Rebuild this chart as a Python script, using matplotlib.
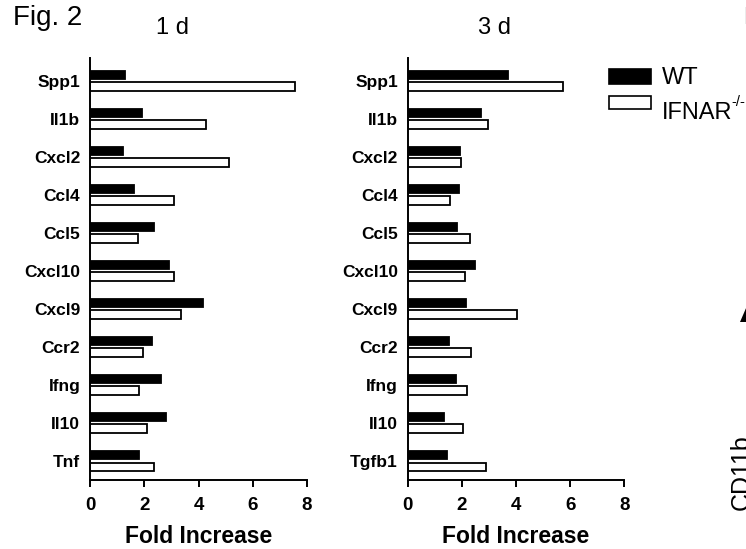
import numpy as np
import matplotlib
matplotlib.use("Agg")
import matplotlib.pyplot as plt
from matplotlib.patches import Rectangle, Polygon

plt.rcParams['font.family'] = ['Liberation Sans', 'DejaVu Sans']

W, H = 746, 549

genes_1d = ["Spp1", "Il1b", "Cxcl2", "Ccl4", "Ccl5", "Cxcl10", "Cxcl9", "Ccr2", "Ifng", "Il10", "Tnf"]
wt_1d = [1.29, 1.93, 1.20, 1.62, 2.37, 2.90, 4.17, 2.30, 2.60, 2.80, 1.82]
ko_1d = [7.56, 4.26, 5.12, 3.10, 1.78, 3.10, 3.37, 1.94, 1.80, 2.09, 2.36]

genes_3d = ["Spp1", "Il1b", "Cxcl2", "Ccl4", "Ccl5", "Cxcl10", "Cxcl9", "Ccr2", "Ifng", "Il10", "Tgfb1"]
wt_3d = [3.70, 2.70, 1.93, 1.91, 1.81, 2.47, 2.17, 1.51, 1.80, 1.34, 1.46]
ko_3d = [5.72, 2.97, 1.96, 1.58, 2.30, 2.10, 4.04, 2.34, 2.18, 2.03, 2.89]

xticks = [0, 2, 4, 6, 8]


def fx(px):
    return px / W


def fy(py):
    return 1 - py / H


def draw_panel(ax, genes, wt, ko):
    y = np.arange(len(genes))
    ax.barh(y - 0.15, wt, height=0.22, color='black', edgecolor='black', linewidth=1.3)
    ax.barh(y + 0.15, ko, height=0.22, color='white', edgecolor='black', linewidth=1.3)
    ax.set_xlim(0, 8)
    ax.set_ylim(10.5, -0.6)
    ax.set_xticks(xticks)
    ax.set_xticklabels([str(t) for t in xticks], fontsize=13.5, fontweight='bold')
    ax.set_yticks(y)
    ax.set_yticklabels(genes, fontsize=12.5, fontweight='bold')
    ax.tick_params(axis='y', length=0, pad=7)
    ax.tick_params(axis='x', length=5, width=1.4, pad=7, direction='out')
    for s in ['top', 'right']:
        ax.spines[s].set_visible(False)
    for s in ['left', 'bottom']:
        ax.spines[s].set_linewidth(1.4)
    ax.set_xlabel("Fold Increase", fontsize=16.5, fontweight='bold', labelpad=8)


fig = plt.figure(figsize=(W / 100, H / 100), dpi=100)

ax1 = fig.add_axes([fx(90), fy(480), fx(217), 422 / H])
ax2 = fig.add_axes([fx(407.7), fy(480), fx(216.6), 422 / H])
draw_panel(ax1, genes_1d, wt_1d, ko_1d)
draw_panel(ax2, genes_3d, wt_3d, ko_3d)

fig.text(fx(13), fy(25), "Fig. 2", fontsize=20, va='baseline', ha='left')
fig.text(fx(172.5), fy(34.3), "1 d", fontsize=17, va='baseline', ha='center')
fig.text(fx(494), fy(34.3), "3 d", fontsize=17, va='baseline', ha='center')
fig.text(fx(743), fy(24), "B", fontsize=17, va='baseline', ha='left', color='0.4')

# legend
fig.add_artist(Rectangle((fx(608.5), fy(84)), fx(42), 15 / H, transform=fig.transFigure,
                         facecolor='black', edgecolor='black', linewidth=1.2))
fig.add_artist(Rectangle((fx(608.5), fy(109)), fx(42), 13 / H, transform=fig.transFigure,
                         facecolor='white', edgecolor='black', linewidth=1.2))
fig.text(fx(662), fy(84.3), "WT", fontsize=17, va='baseline', ha='left')
fig.text(fx(662), fy(119.3), "IFNAR", fontsize=17, va='baseline', ha='left')
fig.text(fx(731.5), fy(106), "-/-", fontsize=10.5, va='baseline', ha='left')

# cut-off bits of the next panel
fig.add_artist(Polygon([(fx(740), fy(322)), (fx(753), fy(322)), (fx(746.5), fy(307))],
                       closed=True, transform=fig.transFigure, facecolor='black', edgecolor='none'))
fig.text(fx(730), fy(472), "CD11b", fontsize=18, rotation=90, ha='left', va='center')

fig.savefig("out.png", dpi=100)
